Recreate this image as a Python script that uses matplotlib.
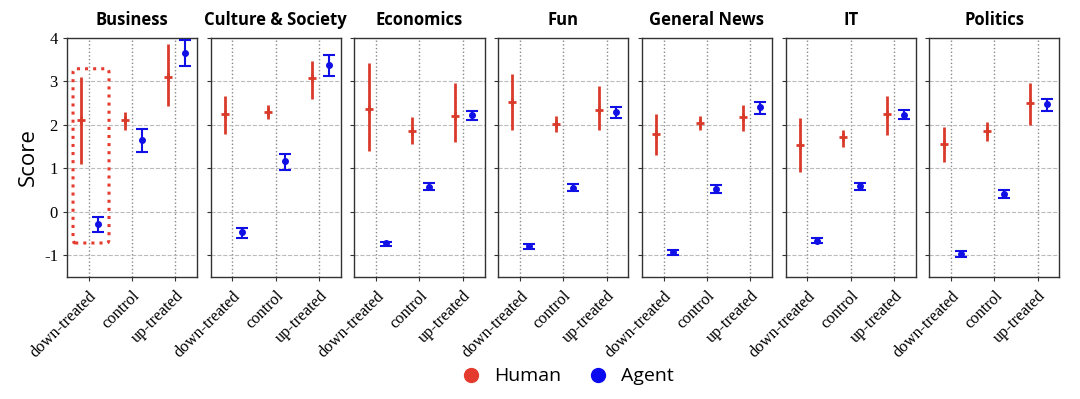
import numpy as np
import matplotlib
matplotlib.use('Agg')
import matplotlib.pyplot as plt
from matplotlib.patches import FancyBboxPatch
from matplotlib.lines import Line2D

plt.rcParams['axes.unicode_minus'] = False

topics = ['Business', 'Culture & Society', 'Economics', 'Fun', 'General News', 'IT', 'Politics']
conditions = ['down-treated', 'control', 'up-treated']

# mean, lower, upper for (down, control, up)
human_mean = [
    [2.11, 2.11, 3.10],
    [2.25, 2.29, 3.07],
    [2.36, 1.86, 2.21],
    [2.52, 2.02, 2.34],
    [1.79, 2.05, 2.18],
    [1.53, 1.71, 2.24],
    [1.56, 1.85, 2.50],
]
human_low = [
    [1.10, 1.88, 2.43],
    [1.78, 2.13, 2.60],
    [1.40, 1.55, 1.60],
    [1.89, 1.83, 1.87],
    [1.31, 1.89, 1.85],
    [0.92, 1.50, 1.77],
    [1.15, 1.62, 2.00],
]
human_high = [
    [3.11, 2.30, 3.86],
    [2.67, 2.45, 3.47],
    [3.43, 2.18, 2.96],
    [3.17, 2.21, 2.89],
    [2.24, 2.21, 2.46],
    [2.15, 1.89, 2.66],
    [1.94, 2.07, 2.97],
]
agent_mean = [
    [-0.29, 1.64, 3.65],
    [-0.47, 1.16, 3.37],
    [-0.73, 0.57, 2.22],
    [-0.80, 0.55, 2.29],
    [-0.93, 0.53, 2.40],
    [-0.67, 0.59, 2.23],
    [-0.97, 0.41, 2.48],
]
agent_low = [
    [-0.47, 1.38, 3.35],
    [-0.60, 0.97, 3.13],
    [-0.79, 0.49, 2.11],
    [-0.86, 0.47, 2.15],
    [-0.99, 0.44, 2.25],
    [-0.73, 0.50, 2.13],
    [-1.04, 0.32, 2.32],
]
agent_high = [
    [-0.11, 1.90, 3.95],
    [-0.37, 1.32, 3.61],
    [-0.69, 0.66, 2.32],
    [-0.75, 0.63, 2.41],
    [-0.87, 0.62, 2.53],
    [-0.61, 0.67, 2.34],
    [-0.91, 0.50, 2.60],
]

human_color = '#d93b2b'
agent_color = '#1010e6'
title_font = 'Open Sans'
tick_font = 'Liberation Serif'

fig, axes = plt.subplots(1, 7, figsize=(10.8, 3.99), dpi=100, sharey=True)
fig.subplots_adjust(left=0.062, right=0.981, top=0.905, bottom=0.306, wspace=0.105)

x = np.arange(len(conditions))
for i, ax in enumerate(axes):
    hm = np.array(human_mean[i])
    am = np.array(agent_mean[i])
    herr = [hm - np.array(human_low[i]), np.array(human_high[i]) - hm]
    aerr = [am - np.array(agent_low[i]), np.array(agent_high[i]) - am]
    ax.errorbar(x - 0.17, hm, yerr=herr, fmt='+', color=human_color, ecolor=human_color,
                elinewidth=2, markersize=6, mew=2, capsize=0, zorder=3)
    ax.errorbar(x + 0.22, am, yerr=aerr, fmt='o', color=agent_color, ecolor=agent_color,
                elinewidth=1.5, markersize=4, capsize=4, capthick=1.5, zorder=3)

    ax.set_xlim(-0.5, 2.5)
    ax.set_ylim(-1.5, 4)
    ax.set_xticks(x)
    ax.set_xticklabels(conditions, rotation=45, ha='right', rotation_mode='anchor',
                       fontsize=11.8, family=tick_font)
    ax.set_yticks([-1, 0, 1, 2, 3, 4])
    ax.grid(axis='x', linestyle=':', color='#888888', linewidth=1)
    ax.grid(axis='y', linestyle='--', color='#bbbbbb', linewidth=0.8)
    ax.set_axisbelow(True)
    ax.tick_params(direction='out', length=3, color='#333333')
    ax.tick_params(axis='x', pad=5)
    for s in ax.spines.values():
        s.set_color('#333333')
        s.set_linewidth(1)
    ax.set_title(topics[i], fontsize=12, fontweight='bold', family=title_font, pad=9)

for lbl in axes[0].get_yticklabels():
    lbl.set_family(tick_font)
    lbl.set_fontsize(12)
axes[0].set_ylabel('Score', fontsize=16, family=title_font)

# highlight box in the Business panel
box = FancyBboxPatch((-0.36, -0.72), 0.83, 4.01, boxstyle='round,pad=0,rounding_size=0.05',
                     fill=False, edgecolor='#e53a2e', linestyle=':', linewidth=2.2, zorder=4,
                     mutation_aspect=2)
axes[0].add_patch(box)

handles = [
    Line2D([], [], marker='o', linestyle='', color='#e53a2e', markersize=10, label='Human'),
    Line2D([], [], marker='o', linestyle='', color='#0a0af0', markersize=10, label='Agent'),
]
fig.legend(handles=handles, loc='lower center', ncol=2, frameon=False,
           bbox_to_anchor=(0.521, -0.01), prop={'family': title_font, 'size': 14},
           handletextpad=0.2, columnspacing=0.9)

fig.savefig('out.png', dpi=100)
